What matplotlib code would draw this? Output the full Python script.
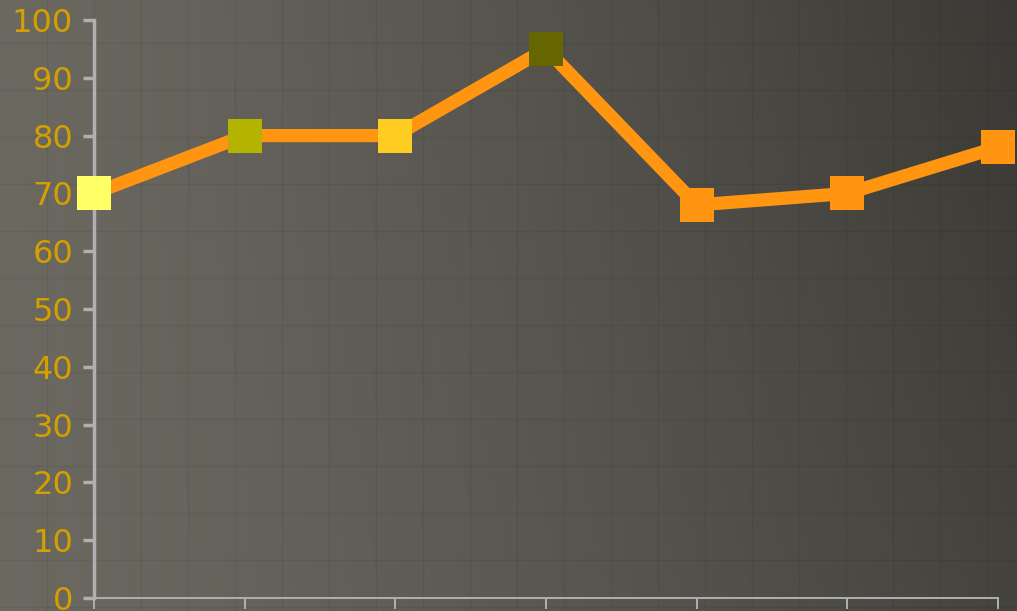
import numpy as np
import matplotlib
matplotlib.use("Agg")
import matplotlib.pyplot as plt

# data
points = ["P1", "P2", "P3", "P4", "P5", "P6", "P7"]
values = [70, 80, 80, 95, 68, 70, 78]
marker_colors = ["#ffff66", "#b3b300", "#ffcc22", "#666600", "#ff9511", "#ff9511", "#ff9511"]
y_ticks = list(range(0, 101, 10))

line_color = "#ff9511"
label_color = "#d4a000"
axis_color = "#b0b0b0"

fig = plt.figure(figsize=(10.17, 6.11), dpi=100)

# background: dark grungy paper, lighter on the left, darker top right
bg = fig.add_axes([0, 0, 1, 1], zorder=0)
gx, gy = np.meshgrid(np.linspace(0, 1, 400), np.linspace(0, 1, 240))
shade = 0.42 - 0.15 * gx ** 1.3 - 0.04 * gx * (1 - gy)
rgb = np.dstack([shade * 1.0, shade * 0.975, shade * 0.9])
bg.imshow(rgb, extent=[0, 1017, 611, 0], aspect="auto", interpolation="bilinear")
for gxl in np.arange(47, 1017, 47):
    bg.axvline(gxl, color="#000000", alpha=0.06, lw=1)
for gyl in np.arange(43, 611, 47):
    bg.axhline(gyl, color="#000000", alpha=0.06, lw=1)
bg.set_xlim(0, 1017)
bg.set_ylim(611, 0)
bg.axis("off")

ax = fig.add_axes([94 / 1017, 13 / 611, (998 - 94) / 1017, (598 - 20) / 611], zorder=1)
ax.patch.set_alpha(0)

x = np.arange(len(values))
ax.plot(x, values, color=line_color, lw=9.5, solid_joinstyle="miter", zorder=2, clip_on=False)
for xi, v, c in zip(x, values, marker_colors):
    ax.plot(xi, v, marker="s", ms=25, color=c, mec=c, mew=0, zorder=3, clip_on=False)

ax.set_xlim(0, len(values) - 1)
ax.set_ylim(0, 100)
ax.set_yticks(y_ticks)
ax.set_xticks(x)
ax.set_xticklabels([])

for s in ["top", "right"]:
    ax.spines[s].set_visible(False)
ax.spines["left"].set_color(axis_color)
ax.spines["left"].set_linewidth(2.5)
ax.spines["bottom"].set_color(axis_color)
ax.spines["bottom"].set_linewidth(1.4)
ax.tick_params(axis="y", colors=axis_color, length=8, width=2.5, pad=7,
               labelcolor=label_color, labelsize=23)
ax.tick_params(axis="x", colors=axis_color, length=8, width=1.4)
for lab in ax.get_yticklabels():
    lab.set_fontfamily("DejaVu Sans")

fig.savefig("out.png", dpi=100)
